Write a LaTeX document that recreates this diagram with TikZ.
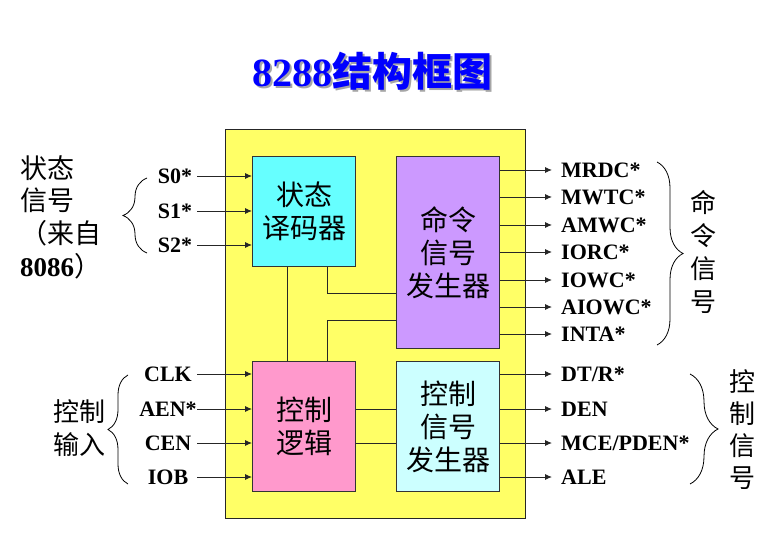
\documentclass[tikz,border=0pt]{standalone}
\usepackage{fontspec}
\setmainfont{Liberation Serif}
\newfontfamily\cjk{Noto Sans CJK SC}
\usetikzlibrary{arrows.meta,decorations.pathreplacing}

\definecolor{chipyellow}{RGB}{255,255,102}
\definecolor{deccyan}{RGB}{102,255,255}
\definecolor{cmdpurple}{RGB}{204,153,255}
\definecolor{logicpink}{RGB}{255,153,204}
\definecolor{genpale}{RGB}{204,255,255}
\definecolor{titleblue}{RGB}{0,0,255}

\newcommand{\titletext}{{\rmfamily 8288}结构框图}

\begin{document}
\begin{tikzpicture}
	[
	x=1pt,y=-1pt,
	>={Latex[length=7pt,width=6pt]},
	block/.style={rectangle,draw=black!80,line width=1.2pt,minimum width=103pt,anchor=north west,text centered,align=center,font=\cjk\fontsize{28}{33}\selectfont},
	wire/.style={line width=0.9pt,draw=black!85},
	sig/.style={font=\bfseries\fontsize{22}{24}\selectfont,inner sep=0pt,text height=15pt,text depth=0pt},
	note/.style={font=\cjk\fontsize{26}{33}\selectfont,inner sep=0pt},
	bracket/.style={decorate,decoration={brace,amplitude=#1},line width=0.8pt},
	]
	\useasboundingbox (0,0) rectangle (783,534);
	% title (with its grey shadow)
	\node[font=\cjk\bfseries\fontsize{40}{40}\selectfont,text=titleblue] (title) at (372,72)
		{\rlap{\kern2pt\raisebox{-2pt}{\color{black!35}\titletext}}\titletext};
	% chip and blocks
	\node[block,draw=black!85,fill=chipyellow,minimum width=300pt,minimum height=389pt] (chip) at (225,129) {};
	\node[block,fill=deccyan,minimum height=110pt] (decoder) at (252,156) {状态\\译码器};
	\node[block,fill=cmdpurple,minimum height=192pt] (cmdgen) at (396,156) {命令\\信号\\发生器};
	\node[block,fill=logicpink,minimum height=130pt] (logic) at (252,361) {控制\\逻辑};
	\node[block,fill=genpale,minimum height=130pt] (ctrlgen) at (396,361) {控制\\信号\\发生器};
	% inner wires
	\draw[wire] ([xshift=35pt]decoder.south west) -- ([xshift=35pt]logic.north west);
	\draw[wire] ([xshift=75pt]decoder.south west) |- ([yshift=-41pt]cmdgen.west);
	\draw[wire] ([xshift=75pt]logic.north west) |- ([yshift=-68pt]cmdgen.west);
	\draw[wire] ([yshift=17pt]logic.east) -- ([yshift=17pt]ctrlgen.west);
	\draw[wire] ([yshift=-17pt]logic.east) -- ([yshift=-17pt]ctrlgen.west);
	% status inputs
	\foreach \name/\txt/\y in {s0/S0*/176,s1/S1*/211,s2/S2*/245}{
		\node[sig] (\name) at (175,\y) {\txt};
		\coordinate (\name-in) at (197,\y);
		\draw[wire,->] (\name-in) -- (\name-in -| decoder.west);
	}
	% control inputs
	\foreach \name/\txt/\y in {clk/CLK/374,aen/AEN*/409,cen/CEN/443,iob/IOB/477}{
		\node[sig] (\name) at (168,\y) {\txt};
		\coordinate (\name-in) at (197,\y);
		\draw[wire,->] (\name-in) -- (\name-in -| logic.west);
	}
	% command outputs
	\foreach \name/\txt/\y in {mrdc/MRDC*/170,mwtc/MWTC*/197,amwc/AMWC*/225,iorc/IORC*/252,iowc/IOWC*/280,aiowc/AIOWC*/307,inta/INTA*/334}{
		\node[sig,anchor=west] (\name) at (561,\y) {\txt};
		\coordinate (\name-out) at (552,\y);
		\draw[wire,->] (\name-out -| cmdgen.east) -- (\name-out);
	}
	% control outputs
	\foreach \name/\txt/\y in {dtr/{DT/R*}/374,den/DEN/409,mce/{MCE/PDEN*}/443,ale/ALE/477}{
		\node[sig,anchor=west] (\name) at (561,\y) {\txt};
		\coordinate (\name-out) at (552,\y);
		\draw[wire,->] (\name-out -| ctrlgen.east) -- (\name-out);
	}
	% braces and group notes
	\draw[bracket=24pt] (147,253) -- (147,178);
	\draw[bracket=20pt] (128,484) -- (128,375);
	\draw[bracket=26pt] (657,162) -- (657,345);
	\draw[bracket=28pt] (690,374) -- (690,484);
	\node[note,anchor=west,align=left,font=\cjk\fontsize{27}{32.7}\selectfont] (srcnote) at (20,217) {状态\\信号\\（来自\\{\rmfamily\bfseries 8086}）};
	\node[note,align=center] (innote) at (79,428) {控制\\输入};
	\node[note,align=center] (cmdnote) at (703,252) {命\\令\\信\\号};
	\node[note,align=center,font=\cjk\fontsize{26}{32}\selectfont] (ctrlnote) at (742,430) {控\\制\\信\\号};
\end{tikzpicture}
\end{document}
